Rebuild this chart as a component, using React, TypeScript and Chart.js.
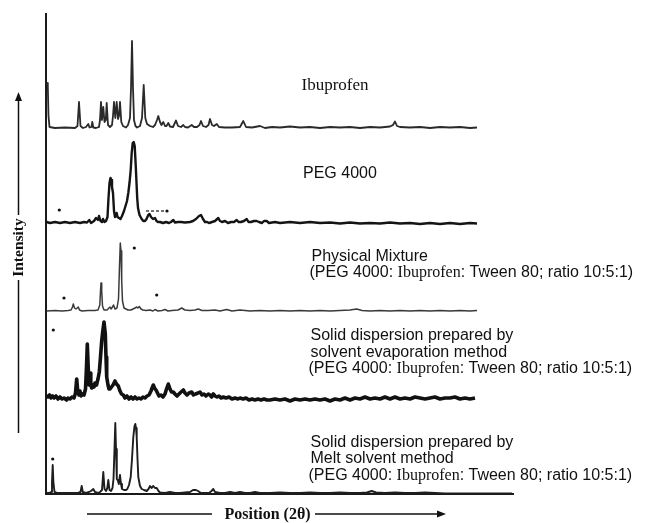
import React, { useEffect, useRef } from "react";
import { Chart, registerables } from "chart.js";

Chart.register(...registerables);

// Position (2θ, arbitrary scale) and intensity (a.u., above each trace's own baseline)
const ibuprofen: [number, number][] = [
  [5.1,45],[5.18,42],[5.25,12],[5.35,1],[5.9,0],[6.9,0.5],[7.9,0],[8.15,2],[8.3,26],[8.45,2],[8.7,0],[9.0,1],[9.23,4],[9.35,0.5],[9.55,1],[9.63,6],[9.73,0.5],[10.0,0],[10.3,1],[10.4,8],[10.5,26],[10.6,8],[10.73,21],[10.85,6],[10.98,8],[11.07,25],[11.2,3],[11.4,1],[11.6,3],[11.7,12],[11.8,26],[11.93,10],[12.07,26],[12.2,9],[12.3,12],[12.4,26],[12.53,6],[12.7,2],[13.0,0.5],[13.2,3],[13.4,10],[13.5,40],[13.6,87],[13.7,40],[13.8,8],[13.95,2],[14.1,0.5],[14.4,2],[14.6,10],[14.77,43],[14.93,10],[15.1,4],[15.4,2],[15.7,1],[15.9,3],[16.1,8],[16.23,12],[16.4,6],[16.55,3],[16.73,6],[16.9,2],[17.05,2],[17.23,5],[17.4,1.5],[17.7,1],[18.0,7.5],[18.2,2],[18.5,1],[18.73,3],[18.9,1],[19.2,0.5],[19.57,3],[19.8,1],[20.1,1],[20.35,3],[20.5,7],[20.7,2],[21.0,1],[21.25,3],[21.4,9],[21.6,3],[21.8,2],[22.07,4],[22.3,1],[22.9,0.5],[23.6,0.5],[24.4,1],[24.73,7],[25.0,1],[25.6,0.5],[26.4,2],[26.9,0],[27.6,1],[28.4,0.5],[29.4,1.5],[30.4,0.5],[31.4,1],[32.4,0],[33.4,1],[34.4,0.5],[35.4,1],[36.4,0],[37.4,1],[38.4,0.5],[39.4,1.5],[39.7,3],[39.9,6.5],[40.1,2],[40.4,1],[41.4,0.5],[42.4,1],[43.4,0],[44.4,1],[45.4,0.5],[46.4,1],[47.4,0],[48.1,0.5],
];

const peg4000: [number, number][] = [
  [5.05,1],[5.4,0],[5.9,1],[6.4,0],[6.9,1],[7.4,0],[7.9,1],[8.4,0],[8.8,1],[9.1,0.5],[9.33,3],[9.5,0],[9.8,2],[10.0,5],[10.2,3],[10.3,7],[10.45,2],[10.6,1],[10.7,4],[10.85,1],[11.0,2],[11.15,6],[11.25,25],[11.35,40],[11.45,45],[11.53,43],[11.6,36],[11.7,30],[11.8,12],[11.9,6],[12.0,8],[12.07,10],[12.15,6],[12.3,5],[12.45,4],[12.6,7],[12.8,12],[12.95,17],[13.1,22],[13.23,30],[13.35,40],[13.47,53],[13.57,70],[13.67,80],[13.77,81],[13.87,77],[13.95,62],[14.03,45],[14.12,25],[14.2,15],[14.35,8],[14.57,4],[14.73,2],[14.9,2],[15.05,4],[15.23,8],[15.35,9],[15.5,6],[15.7,4],[15.9,5],[16.05,2],[16.2,1],[16.4,1],[16.7,0],[17.0,1],[17.3,0],[17.5,1],[17.73,3],[17.9,0.5],[18.2,1],[18.5,1],[18.9,0.5],[19.4,1],[19.7,2],[20.0,4],[20.3,7],[20.5,8],[20.7,4],[20.9,1],[21.1,1],[21.3,0],[21.6,1],[21.9,2],[22.23,5],[22.4,2],[22.6,1],[22.9,2],[23.2,0],[23.5,1],[23.8,1],[24.07,3],[24.25,1],[24.5,1],[24.8,2],[25.07,4],[25.25,1],[25.5,1],[25.8,2],[26.07,2],[26.3,1],[26.6,0],[26.8,2],[27.07,2],[27.3,0],[27.9,1],[28.4,0],[29.4,1],[30.4,0],[31.4,1],[32.4,0],[33.4,0.5],[34.4,-0.5],[35.4,0.5],[36.4,-0.5],[37.4,0],[38.4,-0.5],[39.4,0.5],[40.4,-0.5],[41.4,0],[42.4,-1],[43.4,0],[44.4,-1],[45.4,0],[46.4,-1],[47.4,0],[48.1,-0.5],
];

const physicalMixture: [number, number][] = [
  [5.05,0],[5.9,0.5],[6.6,0],[7.2,0.5],[7.5,1],[7.65,4],[7.73,7],[7.85,3],[8.0,2],[8.23,4],[8.35,1],[8.6,0],[9.2,0.5],[9.9,0.5],[10.2,1],[10.38,6],[10.45,20],[10.5,28],[10.57,20],[10.65,5],[10.8,1],[11.1,1],[11.3,3],[11.4,4],[11.5,2],[11.65,4],[11.75,6],[11.9,2],[12.1,3],[12.25,12],[12.35,45],[12.43,68],[12.5,60],[12.57,30],[12.65,10],[12.8,3],[13.0,2],[13.2,1],[13.5,1],[13.7,2],[13.9,3],[14.07,4],[14.18,3],[14.33,4.5],[14.5,2],[14.7,1],[15.0,0.5],[15.4,1],[15.7,0],[15.9,1.5],[16.2,0],[16.6,0.5],[16.9,1.5],[17.2,0],[17.6,0.5],[18.2,1],[18.57,3],[18.9,1],[19.4,0.5],[19.9,1],[20.23,2],[20.6,0.5],[21.2,0.5],[21.9,1],[22.4,0],[23.07,1.5],[23.6,0],[24.4,1],[25.4,0],[26.4,0.5],[27.4,0],[28.4,0.5],[29.4,0],[30.4,0.5],[31.4,0],[32.4,0.5],[33.4,0],[34.4,0.5],[35.4,1],[36.07,2],[36.6,0.5],[37.4,0],[38.4,0.5],[39.4,0],[40.4,0.5],[41.4,0],[42.4,0.5],[43.4,0],[44.4,0.5],[45.4,0],[46.4,0.5],[47.4,0],[48.1,0.5],
];

const solventEvaporation: [number, number][] = [
  [5.05,2],[5.2,0],[5.35,2],[5.5,-1],[5.65,1],[5.8,-1],[6.0,1],[6.2,-2],[6.4,0],[6.6,-2],[6.8,-1],[7.07,-3],[7.2,-1],[7.4,-2],[7.6,0],[7.8,-1],[7.95,4],[8.07,18],[8.18,5],[8.3,2],[8.4,6],[8.5,1],[8.65,3],[8.8,2],[8.95,8],[9.05,30],[9.13,53],[9.22,30],[9.3,12],[9.4,24],[9.48,12],[9.57,9],[9.7,12],[9.8,10],[9.9,14],[10.05,12],[10.2,18],[10.33,25],[10.45,40],[10.57,56],[10.68,66],[10.8,75],[10.93,63],[11.0,40],[11.07,20],[11.2,12],[11.3,8],[11.4,8],[11.55,10],[11.7,12],[11.9,16],[12.05,13],[12.23,11],[12.4,6],[12.55,3],[12.73,2],[12.9,-1],[13.1,1],[13.3,-2],[13.5,0],[13.7,-2],[13.9,0],[14.1,-2],[14.3,-1],[14.5,-2],[14.7,0],[14.9,-1],[15.1,1],[15.3,2],[15.5,6],[15.65,10],[15.73,12],[15.85,9],[16.0,7],[16.15,4],[16.3,1],[16.5,2],[16.7,0],[16.9,3],[17.05,8],[17.23,13],[17.4,8],[17.55,5],[17.73,5],[17.9,3],[18.1,1],[18.3,3],[18.5,5],[18.73,7],[18.9,4],[19.1,2],[19.3,4],[19.57,5],[19.75,2],[19.95,3],[20.2,4],[20.4,5],[20.6,2],[20.8,3],[21.0,1],[21.23,3],[21.4,2],[21.55,0],[21.73,3],[21.9,1],[22.1,0],[22.3,1],[22.5,-1],[22.73,0],[23.0,-1],[23.3,0],[23.6,-2],[23.9,-1],[24.2,-2],[24.4,-1],[24.7,-2],[25.0,-1],[25.3,-3],[25.6,-2],[25.9,-3],[26.2,-2],[26.5,-3],[26.8,-2],[27.1,-3],[27.4,-3],[27.9,-2],[28.4,-3],[28.9,-2],[29.4,-4],[29.9,-2],[30.4,-3],[30.9,-2],[31.4,-3],[31.9,-2],[32.4,-3],[32.9,-2],[33.4,-4],[33.9,-2],[34.4,-3],[34.9,-1],[35.4,-3],[35.9,-1],[36.4,-2],[36.9,0],[37.4,-2],[37.9,-1],[38.4,-2],[38.9,0],[39.4,-2],[39.9,0],[40.4,-2],[40.9,-1],[41.4,-2],[41.9,0],[42.4,-1],[42.9,-2],[43.4,-1],[43.9,0],[44.4,-2],[44.9,-1],[45.4,-1],[45.9,0],[46.4,-2],[46.9,-1],[47.4,-2],[47.9,-1],
];

const meltSolvent: [number, number][] = [
  [5.05,1],[5.3,1],[5.5,2],[5.6,12],[5.67,29],[5.74,12],[5.85,2],[6.1,1],[6.6,1],[7.4,1],[8.2,1],[8.45,2],[8.57,8],[8.68,2],[9.0,1],[9.3,2],[9.5,3],[9.73,5],[9.9,2],[10.2,1],[10.4,2],[10.6,4],[10.73,22],[10.85,5],[11.0,3],[11.13,6],[11.23,14],[11.35,4],[11.5,3],[11.65,6],[11.75,15],[11.85,45],[11.93,71],[12.0,45],[12.08,15],[12.17,14],[12.28,10],[12.4,19],[12.5,10],[12.6,5],[12.8,4],[13.0,4],[13.13,5],[13.3,9],[13.47,17],[13.6,35],[13.73,57],[13.85,68],[13.93,70],[14.0,66],[14.07,57],[14.15,35],[14.23,17],[14.4,8],[14.57,5],[14.8,4],[15.07,3],[15.25,5],[15.4,8],[15.55,6],[15.73,8],[15.9,6],[16.07,6],[16.25,3],[16.4,1.5],[16.9,1],[17.4,2],[17.9,1],[18.4,1],[18.9,1.5],[19.4,2],[19.7,4],[20.0,4],[20.2,3],[20.5,1],[20.9,1],[21.3,1],[21.55,3],[21.73,5],[21.9,2],[22.4,1],[22.9,1],[23.4,2],[23.9,1],[24.4,2],[24.9,1],[25.4,1],[25.9,2],[26.4,1],[27.4,1],[28.4,1.5],[29.4,1],[30.4,1],[31.4,1.5],[32.4,1],[33.4,1],[34.4,1.5],[35.4,1],[36.4,1],[37.1,1.5],[37.57,3],[38.0,1.5],[38.9,1],[39.9,1.5],[40.9,1],[41.9,1],[42.9,1.5],[43.9,1],[44.9,0.5],[46.4,0.5],[47.9,0.5],[49.4,0.5],[50.9,0.5],[51.6,0.5],
];

// Peak marker dots and the dashed mark in the PEG trace
const ibuprofenMarks: [number, number][] = [];
const pegMarks: [number, number][] = [[6.33, 13], [17.1, 12]];
const pegDash: [number, number][] = [[15.0, 12], [16.9, 12]];
const physicalMarks: [number, number][] = [[6.8, 13], [13.83, 63], [16.07, 16]];
const solventMarks: [number, number][] = [[5.73, 67]];
const meltMarks: [number, number][] = [[5.67, 35]];

// Vertical stacking offsets for each trace (a.u.)
const traceOffsets = [366, 271, 183, 97, 0];
const traceColors = ["#2a2a2a", "#141414", "#3a3a3a", "#111111", "#1e1e1e"];
const traceWidths = [1.8, 2.4, 1.5, 3.6, 1.9];

const traceLabels: string[][] = [
  ["Ibuprofen"],
  ["PEG 4000"],
  ["Physical Mixture", "(PEG 4000: Ibuprofen: Tween 80; ratio 10:5:1)"],
  ["Solid dispersion prepared by", "solvent evaporation method", "(PEG 4000: Ibuprofen: Tween 80; ratio 10:5:1)"],
  ["Solid dispersion prepared by", "Melt solvent method", "(PEG 4000: Ibuprofen: Tween 80; ratio 10:5:1)"],
];

const xTitle = "Position (2θ)";
const yTitle = "Intensity";

const SANS = '"Liberation Sans", Arial, sans-serif';
const SERIF = '"Liberation Serif", "Times New Roman", serif';

function shift(data: [number, number][], off: number) {
  return data.map(([x, y]) => ({ x, y: y + off }));
}

function drawMixed(ctx: CanvasRenderingContext2D, text: string, x: number, y: number) {
  const parts = text.split(/(Ibuprofen)/);
  let cx = x;
  for (const p of parts) {
    if (!p) continue;
    ctx.font = p === "Ibuprofen" ? `16px ${SERIF}` : `16px ${SANS}`;
    ctx.fillText(p, cx, y);
    cx += ctx.measureText(p).width;
  }
}

const annotationPlugin = {
  id: "xrdAnnotations",
  afterDraw(chart: any) {
    const ctx: CanvasRenderingContext2D = chart.ctx;
    ctx.save();
    ctx.fillStyle = "#111";
    ctx.textBaseline = "alphabetic";
    ctx.textAlign = "left";

    // Trace labels
    const labelPos: { x: number; y: number[] }[] = [
      { x: 301.5, y: [90] },
      { x: 303, y: [178] },
      { x: 311.5, y: [261, 277] },
      { x: 310.5, y: [340, 356.5, 373] },
      { x: 310.5, y: [446.5, 463, 479.5] },
    ];
    traceLabels.forEach((lines, i) => {
      lines.forEach((line, j) => {
        const px = labelPos[i].x - (line.startsWith("(") ? 2 : 0);
        const py = labelPos[i].y[j];
        if (line === "Ibuprofen") {
          ctx.font = `17px ${SERIF}`;
          ctx.fillText(line, px, py);
        } else {
          drawMixed(ctx, line, px, py);
        }
      });
    });

    // X axis title with arrow
    ctx.strokeStyle = "#111";
    ctx.lineWidth = 1.5;
    ctx.font = `bold 16px ${SERIF}`;
    ctx.textAlign = "center";
    ctx.fillText(xTitle, 267.5, 519);
    ctx.beginPath();
    ctx.moveTo(87, 514);
    ctx.lineTo(212, 514);
    ctx.moveTo(315, 514);
    ctx.lineTo(438, 514);
    ctx.stroke();
    ctx.beginPath();
    ctx.moveTo(446, 514);
    ctx.lineTo(437, 510.5);
    ctx.lineTo(437, 517.5);
    ctx.closePath();
    ctx.fill();

    // Y axis title with arrow
    ctx.save();
    ctx.translate(18.5, 247.5);
    ctx.rotate(-Math.PI / 2);
    ctx.font = `bold 15.5px ${SERIF}`;
    ctx.textAlign = "center";
    ctx.textBaseline = "middle";
    ctx.fillText(yTitle, 0, 0);
    ctx.restore();
    ctx.beginPath();
    ctx.moveTo(18.5, 433);
    ctx.lineTo(18.5, 280);
    ctx.moveTo(18.5, 215);
    ctx.lineTo(18.5, 100);
    ctx.stroke();
    ctx.beginPath();
    ctx.moveTo(18.5, 92);
    ctx.lineTo(15, 101);
    ctx.lineTo(22, 101);
    ctx.closePath();
    ctx.fill();
    ctx.restore();
  },
};

export default function App() {
  const canvasRef = useRef<HTMLCanvasElement | null>(null);

  useEffect(() => {
    if (!canvasRef.current) return;
    const traces = [ibuprofen, peg4000, physicalMixture, solventEvaporation, meltSolvent];
    const marks = [ibuprofenMarks, pegMarks, physicalMarks, solventMarks, meltMarks];
    const datasets: any[] = traces.map((t, i) => ({
      type: "line",
      label: traceLabels[i][0],
      data: shift(t, traceOffsets[i]),
      borderColor: traceColors[i],
      borderWidth: traceWidths[i],
      pointRadius: 0,
      tension: 0,
      fill: false,
      borderJoinStyle: "round",
    }));
    marks.forEach((m, i) => {
      if (!m.length) return;
      datasets.push({
        type: "scatter",
        label: "marks" + i,
        data: shift(m, traceOffsets[i]),
        pointRadius: 1.6,
        pointBackgroundColor: "#111",
        pointBorderWidth: 0,
        showLine: false,
      });
    });
    datasets.push({
      type: "line",
      label: "pegDash",
      data: shift(pegDash, traceOffsets[1]),
      borderColor: "#444",
      borderWidth: 1.5,
      borderDash: [3, 2],
      pointRadius: 0,
    });

    const chart = new Chart(canvasRef.current, {
      type: "line",
      data: { datasets },
      options: {
        animation: false,
        responsive: false,
        maintainAspectRatio: false,
        layout: { padding: { left: 38, right: 138, top: 14, bottom: 21 } },
        plugins: { legend: { display: false }, tooltip: { enabled: false }, title: { display: false } },
        scales: {
          x: {
            type: "linear",
            min: 5,
            max: 51.7,
            grid: { display: false },
            ticks: { display: false },
            border: { display: true, color: "#1a1a1a", width: 2 },
          },
          y: {
            type: "linear",
            min: 0,
            max: 480,
            grid: { display: false },
            ticks: { display: false },
            border: { display: true, color: "#1a1a1a", width: 2 },
          },
        },
      },
      plugins: [annotationPlugin],
    });
    return () => chart.destroy();
  }, []);

  return (
    <div style={{ position: "fixed", left: 0, top: 0, width: 651, height: 523, background: "#fff" }}>
      <canvas ref={canvasRef} width={651} height={523} style={{ display: "block" }} />
    </div>
  );
}
